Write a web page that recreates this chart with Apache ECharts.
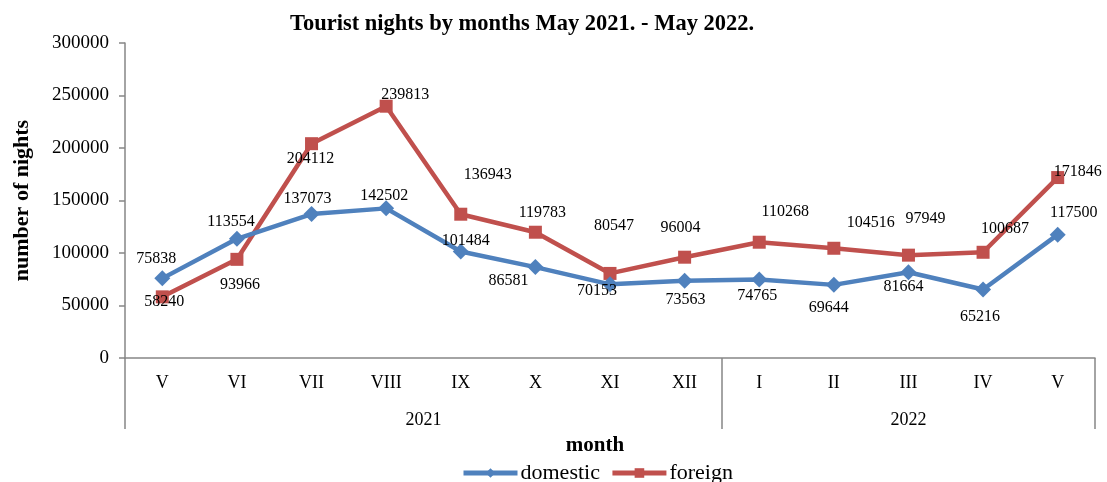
<!DOCTYPE html>
<html>
<head>
<meta charset="utf-8">
<script src="https://cdn.jsdelivr.net/npm/echarts@6/dist/echarts.min.js"></script>
<style>
  html, body { margin: 0; padding: 0; background: #fff; }
</style>
</head>
<body>
<div id="myChart" style="width: 1107px; height: 482px;"></div>
<script>
// data
var months = ["V", "VI", "VII", "VIII", "IX", "X", "XI", "XII", "I", "II", "III", "IV", "V"];
var years = ["2021", "2022"];
var monthsInYear = [8, 5];
var domestic = [75838, 113554, 137073, 142502, 101484, 86581, 70153, 73563, 74765, 69644, 81664, 65216, 117500];
var foreign = [58240, 93966, 204112, 239813, 136943, 119783, 80547, 96004, 110268, 104516, 97949, 100687, 171846];
var yTicks = [0, 50000, 100000, 150000, 200000, 250000, 300000];

// label placement (style only), offsets from the marker centre
var domesticLabelOffsets = [[-6, -20], [-6, -17], [-4, -15], [-2, -13], [5, -11], [-27, 14], [-13, 6], [1, 19], [-2, 16], [-5, 23], [-5, 15], [-3, 27], [16, -22]];
var foreignLabelOffsets = [[2, 5], [3, 25], [-1, 15], [19, -11], [27, -39], [7, -19], [4, -48], [-4, -29], [26, -30], [37, -25], [17, -36], [22, -23], [20, -6]];

var serif = "'Liberation Serif', 'DejaVu Serif', serif";
var axisGrey = "#868686";

function withLabels(values, offsets) {
  return values.map(function (v, i) {
    return { value: v, label: { offset: offsets[i] } };
  });
}

// year group boundaries and centres, in category units
var yearBounds = [0];
var yearCentres = [];
monthsInYear.forEach(function (n) {
  var start = yearBounds[yearBounds.length - 1];
  yearCentres.push(start + n / 2);
  yearBounds.push(start + n);
});

var myChart = echarts.init(document.getElementById("myChart"));
myChart.setOption({
  animation: false,
  color: ["#4F81BD", "#C0504D"],
  textStyle: { fontFamily: serif, color: "#000" },
  title: {
    text: "Tourist nights by months May 2021. - May 2022.",
    left: 285,
    top: 8,
    textStyle: { fontFamily: serif, fontSize: 22.5, fontWeight: "bold", color: "#000" }
  },
  grid: { left: 125, right: 12, top: 43, bottom: 124, containLabel: false, outerBoundsMode: "none" },
  legend: {
    data: ["domestic", "foreign"],
    bottom: -7,
    left: 456,
    itemWidth: 54,
    itemHeight: 12,
    itemGap: 10,
    lineStyle: { width: 5 },
    textStyle: { fontFamily: serif, fontSize: 22, color: "#000", padding: [0, 0, 0, -2] }
  },
  xAxis: [
    {
      type: "category",
      data: months,
      boundaryGap: true,
      axisLine: { lineStyle: { color: axisGrey, width: 1.5 } },
      axisTick: { show: false },
      axisLabel: { color: "#000", fontFamily: serif, fontSize: 18, margin: 16, interval: 0 },
      name: "month",
      nameLocation: "middle",
      nameGap: 77,
      nameTextStyle: { fontFamily: serif, fontSize: 21, fontWeight: "bold", color: "#000", padding: [0, 30, 0, 0] }
    },
    {
      type: "value",
      min: 0,
      max: months.length,
      position: "bottom",
      axisLine: { show: false },
      splitLine: { show: false },
      axisTick: {
        show: true,
        customValues: yearBounds,
        length: 71,
        lineStyle: { color: axisGrey, width: 1.5 }
      },
      axisLabel: {
        customValues: yearCentres,
        margin: 53,
        color: "#000",
        fontFamily: serif,
        fontSize: 18,
        formatter: function (v) {
          var i = yearCentres.indexOf(v);
          return i >= 0 ? years[i] : "";
        }
      }
    }
  ],
  yAxis: {
    type: "value",
    min: yTicks[0],
    max: yTicks[yTicks.length - 1],
    interval: yTicks[1] - yTicks[0],
    axisLine: { show: true, lineStyle: { color: axisGrey, width: 1.5 } },
    axisTick: { show: true, length: 6, lineStyle: { color: axisGrey, width: 1.5 } },
    splitLine: { show: false },
    axisLabel: {
      color: "#000", fontFamily: serif, fontSize: 19, margin: 16,
      formatter: function (v) { return String(v); }
    },
    name: "number of nights",
    nameLocation: "middle",
    nameRotate: 90,
    nameGap: 92,
    nameTextStyle: { fontFamily: serif, fontSize: 22, fontWeight: "bold", color: "#000" }
  },
  series: [
    {
      name: "domestic",
      type: "line",
      xAxisIndex: 0,
      data: withLabels(domestic, domesticLabelOffsets),
      symbol: "diamond",
      symbolSize: 16,
      lineStyle: { width: 4.5 },
      label: { show: true, position: "inside", color: "#000", fontFamily: serif, fontSize: 16 },
      z: 3
    },
    {
      name: "foreign",
      type: "line",
      xAxisIndex: 0,
      data: withLabels(foreign, foreignLabelOffsets),
      symbol: "rect",
      symbolSize: 13,
      lineStyle: { width: 4.5 },
      label: { show: true, position: "inside", color: "#000", fontFamily: serif, fontSize: 16 },
      z: 2
    }
  ]
});
</script>
</body>
</html>
